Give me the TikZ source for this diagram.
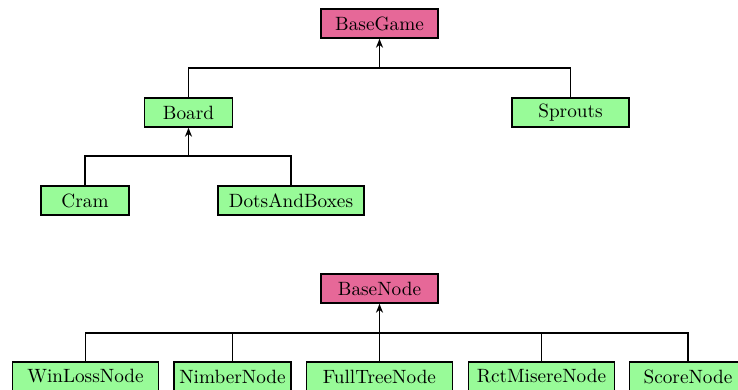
\documentclass[tikz,border=0pt]{standalone}
\usetikzlibrary{arrows.meta}
\definecolor{rootpink}{RGB}{230,104,152}
\definecolor{leafgreen}{RGB}{152,251,152}
\tikzset{
  cls/.style={draw=black, line width=0.8pt, minimum height=29*0.52pt,
    inner sep=0pt, font=\normalsize, fill=leafgreen},
  root/.style={cls, fill=rootpink},
  w3/.style={minimum width=88*0.52pt},
  w4/.style={minimum width=117*0.52pt},
  w5/.style={minimum width=146*0.52pt},
  link/.style={line width=0.8pt},
  inherit/.style={link, -{Stealth[length=4.6pt,width=3.6pt,inset=1.4pt]}}
}
\begin{document}
\begin{tikzpicture}[x=0.52pt, y=-0.52pt]
  \useasboundingbox (0,0) rectangle (738,389);

  % game hierarchy
  \node[root, w4] (basegame) at (379.5,23.5) {BaseGame};
  \node[cls, w3] (board) at (188.5,112.5) {Board};
  \node[cls, w4] (sprouts) at (570.5,112.5) {Sprouts};
  \node[cls, w3] (cram) at (85,200.5) {Cram};
  \node[cls, w5] (dots) at (291,200.5) {DotsAndBoxes};

  \coordinate (busgame) at (379.5,68);
  \coordinate (busboard) at (188.5,156);
  \draw[inherit] (busgame) -- (basegame.south);
  \draw[link] (board.north) |- (busgame);
  \draw[link] (sprouts.north) |- (busgame);
  \draw[inherit] (busboard) -- (board.south);
  \draw[link] (cram.north) |- (busboard);
  \draw[link] (dots.north) |- (busboard);

  % node hierarchy
  \node[root, w4] (basenode) at (379.5,288.5) {BaseNode};
  \node[cls, w5] (winloss) at (85.5,376.5) {WinLossNode};
  \node[cls, w4] (nimber) at (232.5,376.5) {NimberNode};
  \node[cls, w5] (fulltree) at (379.5,376.5) {FullTreeNode};
  \node[cls, w5] (misere) at (541.5,376.5) {RctMisereNode};
  \node[cls, w4] (score) at (688,376.5) {ScoreNode};

  \coordinate (busnode) at (379.5,333);
  \draw[inherit] (fulltree.north) -- (basenode.south);
  \draw[link] (winloss.north) |- (busnode);
  \draw[link] (nimber.north) |- (busnode);
  \draw[link] (misere.north) |- (busnode);
  \draw[link] (score.north) |- (busnode);
\end{tikzpicture}
\end{document}
